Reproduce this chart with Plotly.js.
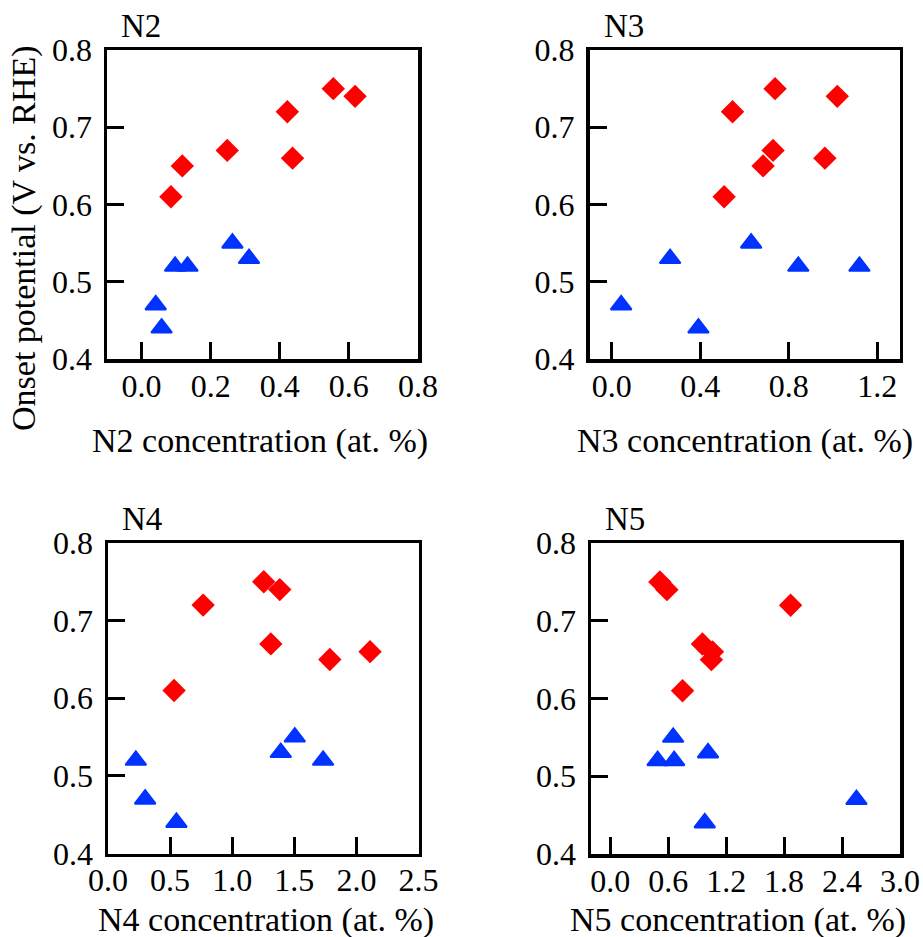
<!DOCTYPE html>
<html>
<head>
<meta charset="utf-8">
<script src="https://cdn.plot.ly/plotly-3.0.1.min.js"></script>
<style>
html,body{margin:0;padding:0;background:#fff;}
#chart{width:923px;height:937px;}
</style>
</head>
<body>
<div id="chart"></div>
<script>
// Onset potential (V vs. RHE) of the two sample groups
const onsetRed  = [0.75, 0.74, 0.72, 0.67, 0.66, 0.65, 0.61];
const onsetBlue = [0.55, 0.53, 0.52, 0.52, 0.47, 0.44];

// Nitrogen species concentrations (at. %)
const n2Red  = [0.555, 0.618, 0.422, 0.248, 0.437, 0.118, 0.085];
const n2Blue = [0.263, 0.311, 0.097, 0.133, 0.041, 0.058];
const n3Red  = [0.738, 1.019, 0.546, 0.729, 0.963, 0.684, 0.508];
const n3Blue = [0.630, 0.264, 0.843, 1.119, 0.043, 0.392];
const n4Red  = [1.254, 1.383, 0.766, 1.311, 2.110, 1.786, 0.532];
const n4Blue = [1.504, 1.391, 0.224, 1.732, 0.299, 0.551];
const n5Red  = [0.513, 0.586, 1.867, 0.954, 1.058, 1.047, 0.748];
const n5Blue = [0.651, 1.012, 0.490, 0.661, 2.549, 0.978];

const panelNames = ["N2", "N3", "N4", "N5"];
const xTitles = ["N2 concentration (at. %)", "N3 concentration (at. %)",
                 "N4 concentration (at. %)", "N5 concentration (at. %)"];
const yTitle = "Onset potential (V vs. RHE)";
const yTickVals = [0.4, 0.5, 0.6, 0.7, 0.8];
const yTickText = ["0.4", "0.5", "0.6", "0.7", "0.8"];
const xTickVals = [
  [0.0, 0.2, 0.4, 0.6, 0.8],
  [0.0, 0.4, 0.8, 1.2],
  [0.0, 0.5, 1.0, 1.5, 2.0, 2.5],
  [0.0, 0.6, 1.2, 1.8, 2.4, 3.0]
];
const xTickText = [
  ["0.0", "0.2", "0.4", "0.6", "0.8"],
  ["0.0", "0.4", "0.8", "1.2"],
  ["0.0", "0.5", "1.0", "1.5", "2.0", "2.5"],
  ["0.0", "0.6", "1.2", "1.8", "2.4", "3.0"]
];
const xRanges = [[-0.1, 0.8001], [-0.1, 1.3], [-0.0001, 2.5001], [-0.2, 3.0001]];

const W = 923, H = 937;
const FONT = "Liberation Serif, serif";
const RED = "#ff0000", BLUE = "#0033ff";

// panel boxes in pixels: [left, right, top, bottom]
const boxes = [
  [107, 418, 50, 359],
  [589.5, 899.5, 50, 359],
  [108, 418.5, 543, 853.5],
  [591, 900, 543, 854]
];
const xData = [[n2Red, n2Blue], [n3Red, n3Blue], [n4Red, n4Blue], [n5Red, n5Blue]];

const traces = [];
const layout = {
  width: W, height: H,
  margin: {l: 0, r: 0, t: 0, b: 0},
  paper_bgcolor: "#fff", plot_bgcolor: "#fff",
  showlegend: false,
  annotations: []
};

for (let i = 0; i < 4; i++) {
  const s = i === 0 ? "" : String(i + 1);
  const b = boxes[i];
  traces.push({
    type: "scatter", mode: "markers",
    x: xData[i][0], y: onsetRed,
    xaxis: "x" + s, yaxis: "y" + s,
    marker: {symbol: "diamond", size: 18, color: RED}
  });
  traces.push({
    type: "scatter", mode: "markers",
    x: xData[i][1], y: onsetBlue,
    xaxis: "x" + s, yaxis: "y" + s,
    marker: {symbol: "triangle-up", size: 18, color: BLUE, line: {color: BLUE, width: 2}}
  });
  layout["xaxis" + s] = {
    domain: [b[0] / W, b[1] / W],
    anchor: "y" + s,
    range: xRanges[i],
    tickmode: "array", tickvals: xTickVals[i], ticktext: xTickText[i],
    ticks: "inside", ticklen: 17, tickwidth: 3, tickcolor: "#000",
    showline: true, linecolor: "#000", linewidth: 3.5, mirror: true,
    showgrid: false, zeroline: false,
    tickfont: {family: FONT, size: 32, color: "#000"},
    ticklabelstandoff: -4
  };
  layout["yaxis" + s] = {
    domain: [1 - b[3] / H, 1 - b[2] / H],
    anchor: "x" + s,
    range: [0.4, 0.8],
    tickmode: "array", tickvals: yTickVals, ticktext: yTickText,
    ticks: "inside", ticklen: 17, tickwidth: 3, tickcolor: "#000",
    showline: true, linecolor: "#000", linewidth: 3.5, mirror: true,
    showgrid: false, zeroline: false,
    tickfont: {family: FONT, size: 32, color: "#000"},
    ticklabelstandoff: 5
  };
  // panel label
  layout.annotations.push({
    xref: "paper", yref: "paper",
    x: (b[0] + 12) / W, y: 1 - (b[2] - 24) / H,
    xanchor: "left", yanchor: "middle",
    text: panelNames[i], showarrow: false,
    font: {family: FONT, size: 33, color: "#000"}
  });
}

const xTitlePos = [[260, 441], [745, 441], [266, 920], [738, 920]];
for (let i = 0; i < 4; i++) {
  layout.annotations.push({
    xref: "paper", yref: "paper",
    x: xTitlePos[i][0] / W, y: 1 - xTitlePos[i][1] / H,
    xanchor: "center", yanchor: "middle",
    text: xTitles[i], showarrow: false,
    font: {family: FONT, size: 34, color: "#000"}
  });
}
layout.annotations.push({
  xref: "paper", yref: "paper",
  x: 24 / W, y: 1 - 238 / H,
  xanchor: "center", yanchor: "middle",
  textangle: -90,
  text: yTitle, showarrow: false,
  font: {family: FONT, size: 34, color: "#000"}
});

Plotly.newPlot("chart", traces, layout, {displayModeBar: false, staticPlot: true});
</script>
</body>
</html>
